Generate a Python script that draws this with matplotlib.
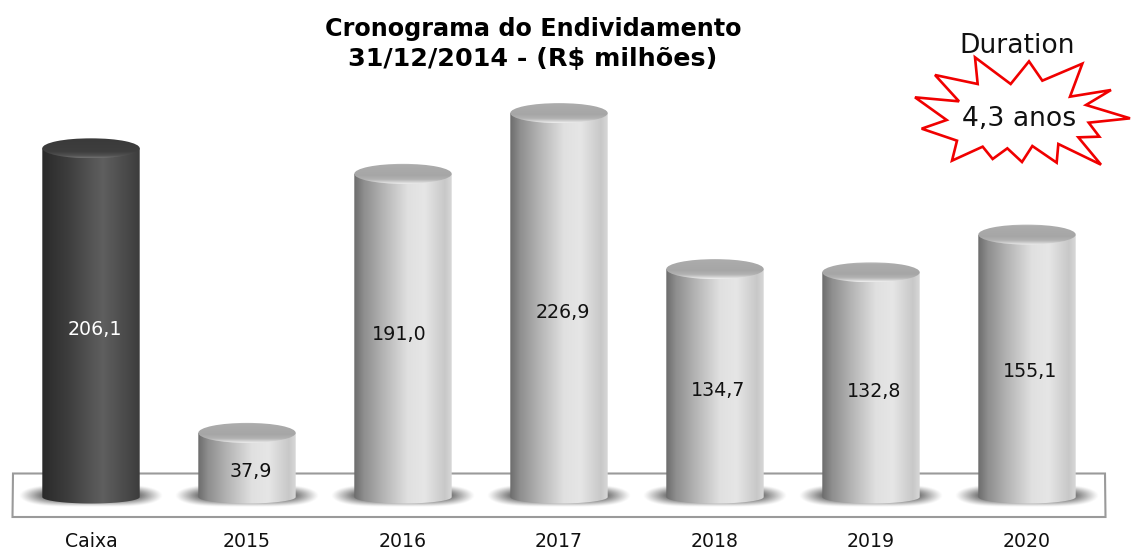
import numpy as np
import matplotlib
matplotlib.use("Agg")
import matplotlib.pyplot as plt
from matplotlib.colors import LinearSegmentedColormap
from matplotlib.patches import Ellipse, PathPatch, Polygon
from matplotlib.path import Path

# ---- data ----
categories = ["Caixa", "2015", "2016", "2017", "2018", "2019", "2020"]
values = [206.1, 37.9, 191.0, 226.9, 134.7, 132.8, 155.1]
value_labels = ["206,1", "37,9", "191,0", "226,9", "134,7", "132,8", "155,1"]
label_drop_px = [7, 7, -1, 7, 7, 7, 6]
label_shift_px = [3.5, 3.5, -4, 3.5, 3.5, 3.5, 3.5]
dark_bars = ["Caixa"]
title_line_1 = "Cronograma do Endividamento"
title_line_2 = "31/12/2014 - (R$ milhões)"

W, H = 1131, 550
fig = plt.figure(figsize=(W / 100, H / 100), dpi=100, facecolor="white")
plt.rcParams["font.family"] = "DejaVu Sans"

# ---- decoration layer in pixel coordinates ----
deco = fig.add_axes([0, 0, 1, 1], zorder=0)
deco.set_xlim(0, W)
deco.set_ylim(H, 0)
deco.axis("off")
deco.add_patch(Polygon([(13, 473.5), (1105, 473.5), (1105.5, 517), (12.5, 517)],
                       closed=True, fc="white", ec="#9a9a9a", lw=1.5))
zoom_pts = [(225, 112), (332, 192), (387, 124), (427, 182), (547, 131), (510, 230), (633, 210),
            (558, 255), (690, 295), (566, 308), (598, 350), (535, 352), (603, 434), (475, 372),
            (470, 428), (397, 378), (366, 426), (322, 385), (278, 417), (248, 380), (156, 422),
            (171, 362), (65, 326), (140, 300), (45, 232), (177, 244), (105, 165), (233, 192)]
deco.add_patch(Polygon([(900 + x / 3, 20 + y / 3) for x, y in zoom_pts], closed=True,
                       fc="white", ec="#f00000", lw=1.9, joinstyle="miter"))
deco.text(1017, 46, "Duration", ha="center", va="center", fontsize=19.2, color="#111111")
deco.text(1019.5, 119, "4,3 anos", ha="center", va="center", fontsize=19.2, color="#111111")
deco.text(533.5, 29, title_line_1, ha="center", va="center", fontsize=17.2, fontweight="bold",
          color="black")
deco.text(533, 59.5, title_line_2, ha="center", va="center", fontsize=18.3, fontweight="bold",
          color="black")

# ---- chart axes: data scale 1.692 px per unit, baseline at y = 497 px ----
PX_X = 156.0
PX_Y = 1.692
AX_BOTTOM = 525
ax = fig.add_axes([0, 1 - AX_BOTTOM / H, 1, AX_BOTTOM / H], zorder=1)
ax.patch.set_alpha(0)
xlim = (-91 / PX_X, (W - 91) / PX_X)
ylim = (-(AX_BOTTOM - 497) / PX_Y, 497 / PX_Y)

side_light = LinearSegmentedColormap.from_list("side_light", [
    (0.00, "#6c6c6c"), (0.10, "#8e8e8e"), (0.30, "#b4b4b4"), (0.55, "#e0e0e0"),
    (0.72, "#e6e6e6"), (0.93, "#c8c8c8"), (1.00, "#d8d8d8")])
side_dark = LinearSegmentedColormap.from_list("side_dark", [
    (0.00, "#2a2a2a"), (0.25, "#3c3c3c"), (0.62, "#5f5f5f"), (0.90, "#464646"), (1.00, "#3c3c3c")])
top_light = LinearSegmentedColormap.from_list("top_light", [
    (0.00, "#c8c8c8"), (0.08, "#acacac"), (0.60, "#a6a6a6"), (0.80, "#b4b4b4"), (0.93, "#d8d8d8"), (1.00, "#f0f0f0")])
top_dark = LinearSegmentedColormap.from_list("top_dark", [
    (0.00, "#909090"), (0.08, "#3a3a3a"), (0.70, "#3e3e3e"), (0.88, "#505050"), (1.00, "#707070")])

half_w = 48.7 / PX_X
top_h = 10 / PX_Y
base_h = 6.5 / PX_Y
grad_h = np.linspace(0, 1, 256)[None, :]
grad_v = np.linspace(0, 1, 64)[:, None]

# soft floor shadow field
gx, gy = np.meshgrid(np.linspace(-1, 1, 300), np.linspace(-1, 1, 80))
rr = np.sqrt(np.abs(gx) ** 4 + gy ** 2)
shadow = np.zeros(rr.shape + (4,))
shadow[..., :3] = 0.40
shadow[..., 3] = np.clip((1 - rr) / 0.6, 0, 1) ** 1.2

t = np.linspace(0, np.pi, 60)
for i, (cat, val, lab, drop, shift) in enumerate(
        zip(categories, values, value_labels, label_drop_px, label_shift_px)):
    dark = cat in dark_bars
    # shadow
    ax.imshow(shadow, extent=(i - 72 / PX_X, i + 72 / PX_X, -10 / PX_Y, 13 / PX_Y),
              aspect="auto", origin="lower", zorder=1, interpolation="bilinear")
    # body: rectangle closed by the lower half of an ellipse
    verts = [(i - half_w, val)] + list(zip(i - half_w * np.cos(t), -base_h * np.sin(t))) \
        + [(i + half_w, val), (i - half_w, val)]
    body = PathPatch(Path(verts), fc="none", ec="none", transform=ax.transData)
    ax.add_patch(body)
    im = ax.imshow(grad_h, cmap=side_dark if dark else side_light, vmin=0, vmax=1,
                   extent=(i - half_w, i + half_w, -base_h, val), aspect="auto", zorder=2,
                   interpolation="bilinear")
    im.set_clip_path(body)
    # lid
    lid = Ellipse((i, val), 2 * half_w, 2 * top_h, fc="none", ec="none", transform=ax.transData)
    ax.add_patch(lid)
    im2 = ax.imshow(grad_v, cmap=top_dark if dark else top_light, vmin=0, vmax=1,
                    extent=(i - half_w, i + half_w, val - top_h, val + top_h), aspect="auto",
                    origin="upper", zorder=3, interpolation="bilinear")
    im2.set_clip_path(lid)
    # label
    ax.annotate(lab, (i, val / 2), xytext=(shift * 0.72, -drop * 0.72), textcoords="offset points",
                ha="center", va="center", fontsize=13.7, zorder=5,
                color="white" if dark else "#111111")

ax.set_xlim(*xlim)
ax.set_ylim(*ylim)
ax.set_yticks([])
ax.set_xticks(range(len(categories)), categories, fontsize=13.6, color="#111111")
ax.tick_params(axis="x", length=0, pad=5)
for s in ax.spines.values():
    s.set_visible(False)

fig.savefig("out.png", dpi=100, facecolor="white")
